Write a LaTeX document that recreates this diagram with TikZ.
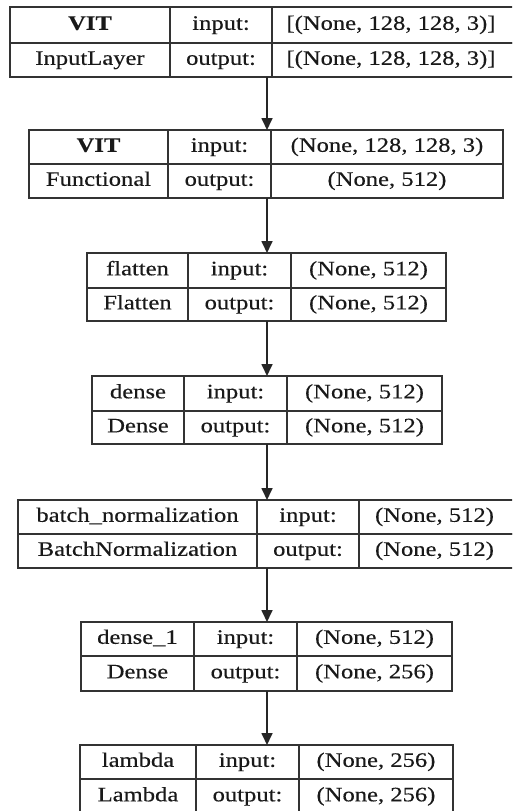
\documentclass[tikz,border=0pt]{standalone}
\usepackage{fontspec}
\setmainfont[FakeStretch=1.2,FakeBold=0.3]{Liberation Serif}
\usetikzlibrary{arrows.meta}
\tikzset{
  cell/.style={draw=black!80, line width=1.5pt, inner sep=0pt, text=black!90,
    anchor=center, font=\fontsize{20.5}{24}\selectfont},
  layerbox/.style={inner sep=0pt, anchor=north west},
  arr/.style={draw=black!85, line width=1.7pt, -{Triangle[width=11pt,length=12pt]}}
}
% #1 name, #2 x0, #3 y0, #4 x1, #5 y1, #6 text
\newcommand\mycell[6]{%
  \pgfmathsetmacro\cxx{(#2+#4)/2}%
  \pgfmathsetmacro\cyy{(#3+#5)/2}%
  \pgfmathsetmacro\cww{#4-#2}%
  \pgfmathsetmacro\chh{#5-#3}%
  \node[cell, minimum width=\cww pt, minimum height=\chh pt] (#1) at (\cxx,\cyy) {\strut #6};}
\newcommand\mylayer[5]{%
  \pgfmathsetmacro\cww{#4-#2}%
  \pgfmathsetmacro\chh{#5-#3}%
  \node[layerbox, minimum width=\cww pt, minimum height=\chh pt] (#1) at (#2,#3) {};}
\begin{document}
\begin{tikzpicture}[x=1pt,y=-1pt]
\clip (0,0) rectangle (512,811);
\fill[white] (0,0) rectangle (512,811);
\coordinate (ax) at (267,0);
% Layer 1
\mycell{a1}{10}{7}{170}{43}{\textbf{VIT}}
\mycell{a2}{170}{7}{272}{43}{input:}
\mycell{a3}{272}{7}{516}{43}{\hspace*{-2pt}[(None, 128, 128, 3)]\hspace*{4pt}}
\mycell{a4}{10}{43}{170}{77}{InputLayer}
\mycell{a5}{170}{43}{272}{77}{output:}
\mycell{a6}{272}{43}{516}{77}{\hspace*{-2pt}[(None, 128, 128, 3)]\hspace*{4pt}}
\mylayer{L1}{10}{7}{516}{77}
% Layer 2
\mycell{b1}{29}{130}{168}{164}{\textbf{VIT}}
\mycell{b2}{168}{130}{271}{164}{input:}
\mycell{b3}{271}{130}{503}{164}{(None, 128, 128, 3)}
\mycell{b4}{29}{164}{168}{198}{Functional}
\mycell{b5}{168}{164}{271}{198}{output:}
\mycell{b6}{271}{164}{503}{198}{(None, 512)}
\mylayer{L2}{29}{130}{503}{198}
% Layer 3
\mycell{c1}{87}{253}{188}{288}{flatten}
\mycell{c2}{188}{253}{291}{288}{input:}
\mycell{c3}{291}{253}{446}{288}{(None, 512)}
\mycell{c4}{87}{288}{188}{321}{Flatten}
\mycell{c5}{188}{288}{291}{321}{output:}
\mycell{c6}{291}{288}{446}{321}{(None, 512)}
\mylayer{L3}{87}{253}{446}{321}
% Layer 4
\mycell{d1}{92}{376}{184}{411}{dense}
\mycell{d2}{184}{376}{287}{411}{input:}
\mycell{d3}{287}{376}{442}{411}{(None, 512)}
\mycell{d4}{92}{411}{184}{444}{Dense}
\mycell{d5}{184}{411}{287}{444}{output:}
\mycell{d6}{287}{411}{442}{444}{(None, 512)}
\mylayer{L4}{92}{376}{442}{444}
% Layer 5
\mycell{e1}{18}{500}{257}{534}{batch\_normalization}
\mycell{e2}{257}{500}{359}{534}{input:}
\mycell{e3}{359}{500}{516}{534}{\hspace*{-2pt}(None, 512)\hspace*{4pt}}
\mycell{e4}{18}{534}{257}{568}{BatchNormalization}
\mycell{e5}{257}{534}{359}{568}{output:}
\mycell{e6}{359}{534}{516}{568}{\hspace*{-2pt}(None, 512)\hspace*{4pt}}
\mylayer{L5}{18}{500}{516}{568}
% Layer 6
\mycell{f1}{81}{622}{194}{656}{dense\_1}
\mycell{f2}{194}{622}{297}{656}{input:}
\mycell{f3}{297}{622}{452}{656}{(None, 512)}
\mycell{f4}{81}{656}{194}{691}{Dense}
\mycell{f5}{194}{656}{297}{691}{output:}
\mycell{f6}{297}{656}{452}{691}{(None, 256)}
\mylayer{L6}{81}{622}{452}{691}
% Layer 7
\mycell{g1}{80}{745}{196}{779}{lambda}
\mycell{g2}{196}{745}{299}{779}{input:}
\mycell{g3}{299}{745}{453}{779}{(None, 256)}
\mycell{g4}{80}{779}{196}{814}{Lambda}
\mycell{g5}{196}{779}{299}{814}{output:}
\mycell{g6}{299}{779}{453}{814}{(None, 256)}
\mylayer{L7}{80}{745}{453}{814}
% Arrows
\draw[arr] (L1.south -| ax) -- (L2.north -| ax);
\draw[arr] (L2.south -| ax) -- (L3.north -| ax);
\draw[arr] (L3.south -| ax) -- (L4.north -| ax);
\draw[arr] (L4.south -| ax) -- (L5.north -| ax);
\draw[arr] (L5.south -| ax) -- (L6.north -| ax);
\draw[arr] (L6.south -| ax) -- (L7.north -| ax);
\end{tikzpicture}
\end{document}
